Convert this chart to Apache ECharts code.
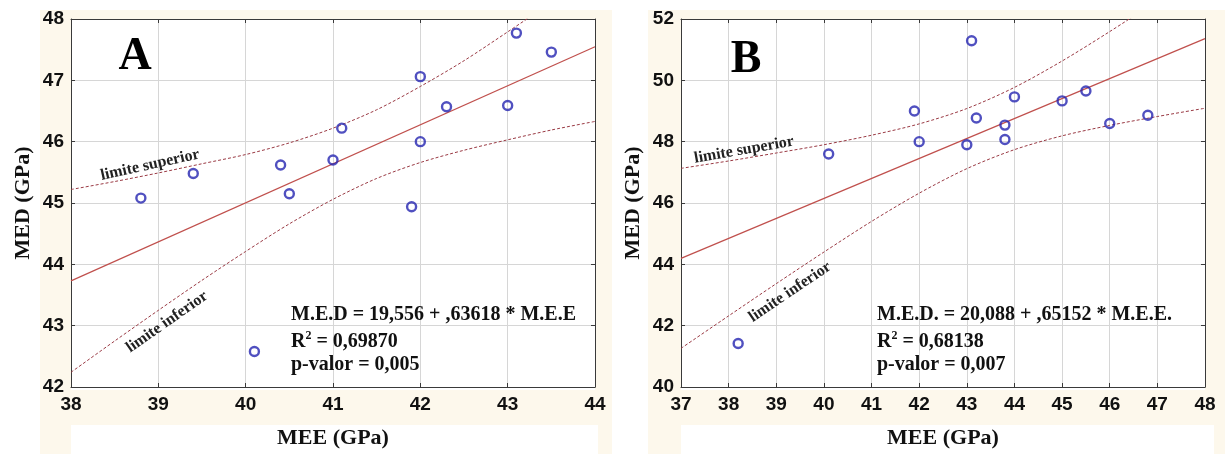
<!DOCTYPE html>
<html>
<head>
<meta charset="utf-8">
<script src="https://cdn.jsdelivr.net/npm/echarts@6/dist/echarts.min.js"></script>
<style>
  html, body { margin: 0; padding: 0; background: #ffffff; }
  #chart { width: 1225px; height: 454px; }
</style>
</head>
<body>
<div id="chart"></div>
<script>
// ---- Panel A: MEE vs MED ----
const meeA = [38.8, 39.4, 40.1, 40.4, 40.5, 41.0, 41.1, 41.9, 42.0, 42.0, 42.3, 43.0, 43.1, 43.5];
const medA = [45.08, 45.48, 42.58, 45.62, 45.15, 45.70, 46.22, 44.94, 47.06, 46.00, 46.57, 46.59, 47.77, 47.46];
const fitA = [19.556, 0.63618];           // intercept, slope
const bandXA = [38, 38.5, 39, 39.5, 40, 40.5, 41, 41.5, 42, 42.5, 43, 43.5, 44];
const upperA = [45.22, 45.35, 45.49, 45.64, 45.79, 45.98, 46.22, 46.52, 46.90, 47.32, 47.79, 48.27, 48.77];
const lowerA = [42.24, 42.75, 43.25, 43.74, 44.21, 44.66, 45.06, 45.40, 45.66, 45.86, 46.03, 46.19, 46.33];
const xTicksA = [38, 39, 40, 41, 42, 43, 44];
const yTicksA = [42, 43, 44, 45, 46, 47, 48];

// ---- Panel B: MEE vs MED ----
const meeB = [38.2, 40.1, 41.9, 42.0, 43.0, 43.1, 43.2, 43.8, 43.8, 44.0, 45.0, 45.5, 46.0, 46.8];
const medB = [41.42, 47.60, 49.00, 48.00, 47.90, 51.29, 48.77, 48.54, 48.07, 49.46, 49.33, 49.65, 48.59, 48.86];
const fitB = [20.088, 0.65152];
const bandXB = [37, 38, 39, 40, 41, 42, 43, 44, 45, 46, 47, 48];
const upperB = [47.13, 47.37, 47.63, 47.90, 48.21, 48.58, 49.08, 49.77, 50.63, 51.59, 52.60, 53.64];
const lowerB = [41.26, 42.32, 43.37, 44.40, 45.40, 46.32, 47.12, 47.74, 48.19, 48.53, 48.82, 49.09];
const xTicksB = [37, 38, 39, 40, 41, 42, 43, 44, 45, 46, 47, 48];
const yTicksB = [40, 42, 44, 46, 48, 50, 52];

const equationA = ['M.E.D = 19,556 + ,63618 * M.E.E', '0,69870', 'p-valor = 0,005'];
const equationB = ['M.E.D. = 20,088 + ,65152 * M.E.E.', '0,68138', 'p-valor = 0,007'];

const SERIF = '"Liberation Serif", "Times New Roman", serif';
const SANS = '"Liberation Sans", Arial, sans-serif';
const CREAM = '#fdf8ec';
const GRID_COLOR = '#d6d6d6';
const FRAME = '#3a3a3a';
const FIT_COLOR = '#c0504d';
const BAND_COLOR = '#9a3a44';
const DOT_COLOR = '#2424b0';

const chart = echarts.init(document.getElementById('chart'), null, { renderer: 'canvas' });

function zip(xs, ys) { return xs.map((x, i) => [x, ys[i]]); }
function fitLine(fit, ticks) {
  const a = ticks[0], b = ticks[ticks.length - 1];
  return [[a, fit[0] + fit[1] * a], [b, fit[0] + fit[1] * b]];
}

function axesFor(idx, xt, yt) {
  const xs = xt[1] - xt[0], ys = yt[1] - yt[0];
  const x = {
    type: 'value', gridIndex: idx, min: xt[0], max: xt[xt.length - 1], interval: xs,
    name: 'MEE (GPa)', nameLocation: 'middle', nameGap: 40,
    nameTextStyle: { fontFamily: SERIF, fontWeight: 'bold', fontSize: 22, color: '#111' },
    axisLine: { show: true, lineStyle: { color: FRAME, width: 1 } },
    axisTick: { show: true, inside: true, length: 4, lineStyle: { color: FRAME } },
    axisLabel: { fontFamily: SANS, fontWeight: 'bold', fontSize: 19, color: '#111', margin: 8 },
    splitLine: { show: true, lineStyle: { color: GRID_COLOR, width: 1 } }
  };
  const xTop = {
    type: 'value', gridIndex: idx, position: 'top', min: xt[0], max: xt[xt.length - 1], interval: xs,
    axisLine: { show: true, lineStyle: { color: FRAME, width: 1 } },
    axisTick: { show: true, inside: true, length: 4, lineStyle: { color: FRAME } },
    axisLabel: { show: false }, splitLine: { show: false }
  };
  const y = {
    type: 'value', gridIndex: idx, min: yt[0], max: yt[yt.length - 1], interval: ys,
    name: 'MED (GPa)', nameLocation: 'middle', nameGap: 37, nameRotate: 90,
    nameTextStyle: { fontFamily: SERIF, fontWeight: 'bold', fontSize: 22, color: '#111' },
    axisLine: { show: true, lineStyle: { color: FRAME, width: 1 } },
    axisTick: { show: true, inside: true, length: 4, lineStyle: { color: FRAME } },
    axisLabel: { fontFamily: SANS, fontWeight: 'bold', fontSize: 19, color: '#111', margin: 7 },
    splitLine: { show: true, lineStyle: { color: GRID_COLOR, width: 1 } }
  };
  const yRight = {
    type: 'value', gridIndex: idx, position: 'right', min: yt[0], max: yt[yt.length - 1], interval: ys,
    axisLine: { show: true, lineStyle: { color: FRAME, width: 1 } },
    axisTick: { show: true, inside: true, length: 4, lineStyle: { color: FRAME } },
    axisLabel: { show: false }, splitLine: { show: false }
  };
  return { x: [x, xTop], y: [y, yRight] };
}

const axA = axesFor(0, xTicksA, yTicksA);
const axB = axesFor(1, xTicksB, yTicksB);

function panelSeries(xi, yi, mee, med, fit, xt, bx, up, lo) {
  const dash = { color: BAND_COLOR, width: 1, type: [3, 2] };
  return [
    { type: 'line', xAxisIndex: xi, yAxisIndex: yi, data: zip(bx, up), smooth: 0.3, showSymbol: false,
      lineStyle: dash, clip: true, silent: true, z: 3 },
    { type: 'line', xAxisIndex: xi, yAxisIndex: yi, data: zip(bx, lo), smooth: 0.3, showSymbol: false,
      lineStyle: dash, clip: true, silent: true, z: 3 },
    { type: 'line', xAxisIndex: xi, yAxisIndex: yi, data: fitLine(fit, xt), showSymbol: false,
      lineStyle: { color: FIT_COLOR, width: 1.2 }, clip: true, silent: true, z: 3 },
    { type: 'scatter', xAxisIndex: xi, yAxisIndex: yi, data: zip(mee, med), symbol: 'circle', symbolSize: 9,
      itemStyle: { color: 'rgba(255,255,255,0)', borderColor: DOT_COLOR, borderWidth: 2.4 }, z: 5 }
  ];
}

function statsText(x, lines) {
  const base = { fontFamily: SERIF, fontWeight: 'bold', fontSize: 20, fill: '#111' };
  return [
    { type: 'text', x: x, y: 315, z: 20, style: Object.assign({ text: lines[0], verticalAlign: 'middle' }, base) },
    { type: 'text', x: x, y: 341, z: 20, style: Object.assign({
        text: '{r|R}{s|2}{r| = ' + lines[1] + '}', verticalAlign: 'middle',
        rich: {
          r: { fontFamily: SERIF, fontWeight: 'bold', fontSize: 20, fill: '#111', lineHeight: 22, verticalAlign: 'bottom' },
          s: { fontFamily: SERIF, fontWeight: 'bold', fontSize: 12, fill: '#111', lineHeight: 22, verticalAlign: 'top' }
        } }, base) },
    { type: 'text', x: x, y: 365, z: 20, style: Object.assign({ text: lines[2], verticalAlign: 'middle' }, base) }
  ];
}

function rotated(text, x, y, deg) {
  return { type: 'text', x: x, y: y, rotation: deg * Math.PI / 180, z: 20,
    style: { text: text, align: 'center', verticalAlign: 'middle', fontFamily: SERIF, fontWeight: 'bold', fontSize: 16, fill: '#222' } };
}

const backgrounds = [
  { type: 'rect', shape: { x: 40, y: 10, width: 572, height: 415 }, style: { fill: CREAM }, z: -20, silent: true },
  { type: 'rect', shape: { x: 40, y: 425, width: 31, height: 29 }, style: { fill: CREAM }, z: -20, silent: true },
  { type: 'rect', shape: { x: 598, y: 425, width: 14, height: 29 }, style: { fill: CREAM }, z: -20, silent: true },
  { type: 'rect', shape: { x: 648, y: 10, width: 577, height: 415 }, style: { fill: CREAM }, z: -20, silent: true },
  { type: 'rect', shape: { x: 648, y: 425, width: 33, height: 29 }, style: { fill: CREAM }, z: -20, silent: true },
  { type: 'rect', shape: { x: 1214, y: 425, width: 11, height: 29 }, style: { fill: CREAM }, z: -20, silent: true },
  { type: 'rect', shape: { x: 71, y: 19, width: 524, height: 371 }, style: { fill: '#ffffff' }, z: -19, silent: true },
  { type: 'rect', shape: { x: 681, y: 19, width: 524, height: 371 }, style: { fill: '#ffffff' }, z: -19, silent: true }
];

const labels = [
  { type: 'text', x: 135, y: 57, z: 20, style: { text: 'A', align: 'center', verticalAlign: 'middle', fontFamily: SERIF, fontWeight: 'bold', fontSize: 46, fill: '#000' } },
  { type: 'text', x: 746, y: 60, z: 20, style: { text: 'B', align: 'center', verticalAlign: 'middle', fontFamily: SERIF, fontWeight: 'bold', fontSize: 46, fill: '#000' } },
  rotated('limite superior', 150, 165, 12.5),
  rotated('limite inferior', 167, 322, 35),
  rotated('limite superior', 744, 150, 10),
  rotated('limite inferior', 790, 292, 34)
];

const option = {
  animation: false,
  backgroundColor: '#ffffff',
  grid: [
    { left: 71, top: 19, width: 524, height: 371, containLabel: false },
    { left: 681, top: 19, width: 524, height: 371, containLabel: false }
  ],
  xAxis: axA.x.concat(axB.x),
  yAxis: axA.y.concat(axB.y),
  series: panelSeries(0, 0, meeA, medA, fitA, xTicksA, bandXA, upperA, lowerA)
    .concat(panelSeries(2, 2, meeB, medB, fitB, xTicksB, bandXB, upperB, lowerB)),
  graphic: { elements: backgrounds.concat(labels, statsText(291, equationA), statsText(877, equationB)) }
};

chart.setOption(option);
</script>
</body>
</html>
